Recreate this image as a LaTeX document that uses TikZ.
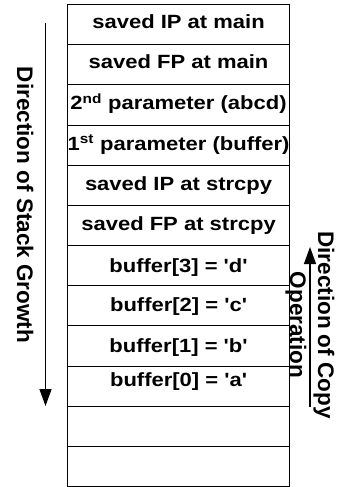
\documentclass[tikz,border=0pt]{standalone}
\usepackage{fontspec}
\setmainfont{Liberation Sans}
\usepackage{graphicx}
\usetikzlibrary{arrows.meta}
\newcommand{\sqz}[1]{\scalebox{1}[0.87]{#1}}
\newcommand{\q}{\textquotesingle}
\begin{document}
\begin{tikzpicture}[x=1pt,y=-1pt,
  cell/.style={draw=black, line width=1.1pt, minimum width=222pt, minimum height=40.17pt, inner sep=0pt, anchor=north west},
  celltext/.style={anchor=base, inner sep=0pt, font=\bfseries\fontsize{22}{24}\selectfont},
  vtext/.style={rotate=-90, anchor=base, inner sep=0pt, font=\bfseries\fontsize{22.5}{24}\selectfont},
  arr/.style={line width=1.4pt, -{Triangle[width=12pt,length=17pt]}}]
\useasboundingbox (0,0) rectangle (337,487);
\foreach \i in {1,...,12}{
  \node[cell] (c\i) at (67,{4+(\i-1)*40.17}) {};
}
\node[celltext] (t1) at ([yshift=-4pt]c1.center) {\sqz{saved IP at main}};
\node[celltext] (t2) at ([yshift=-4pt]c2.center) {\sqz{saved FP at main}};
\node[celltext] (t3) at ([yshift=-5pt]c3.center) {\sqz{2\textsuperscript{nd} parameter (abcd)}};
\node[celltext] (t4) at ([yshift=-5pt]c4.center) {\sqz{1\textsuperscript{st} parameter (buffer)}};
\node[celltext] (t5) at ([yshift=-5pt]c5.center) {\sqz{saved IP at strcpy}};
\node[celltext] (t6) at ([yshift=-5.5pt]c6.center) {\sqz{saved FP at strcpy}};
\node[celltext] (t7) at ([yshift=-7pt]c7.center) {\sqz{buffer[3] = \q d\q}};
\node[celltext] (t8) at ([yshift=-6pt]c8.center) {\sqz{buffer[2] = \q c\q}};
\node[celltext] (t9) at ([yshift=-7pt]c9.center) {\sqz{buffer[1] = \q b\q}};
\node[celltext] (t10) at ([yshift=0pt]c10.center) {\sqz{buffer[0] = \q a\q}};
% stack growth arrow
\coordinate (gtop) at (45.5,23);
\coordinate (gbot) at (45.5,406);
\draw[arr] (gtop) -- (gbot);
\node[vtext] (lg) at (17,205) {Direction of Stack Growth};
% copy direction arrow
\coordinate (cbot) at (310,407);
\coordinate (ctop) at (310,247);
\draw[arr] (cbot) -- (ctop);
\node[vtext] (lc1) at (318,325) {Direction of Copy};
\node[vtext] (lc2) at (290,325) {Operation};
\end{tikzpicture}
\end{document}
